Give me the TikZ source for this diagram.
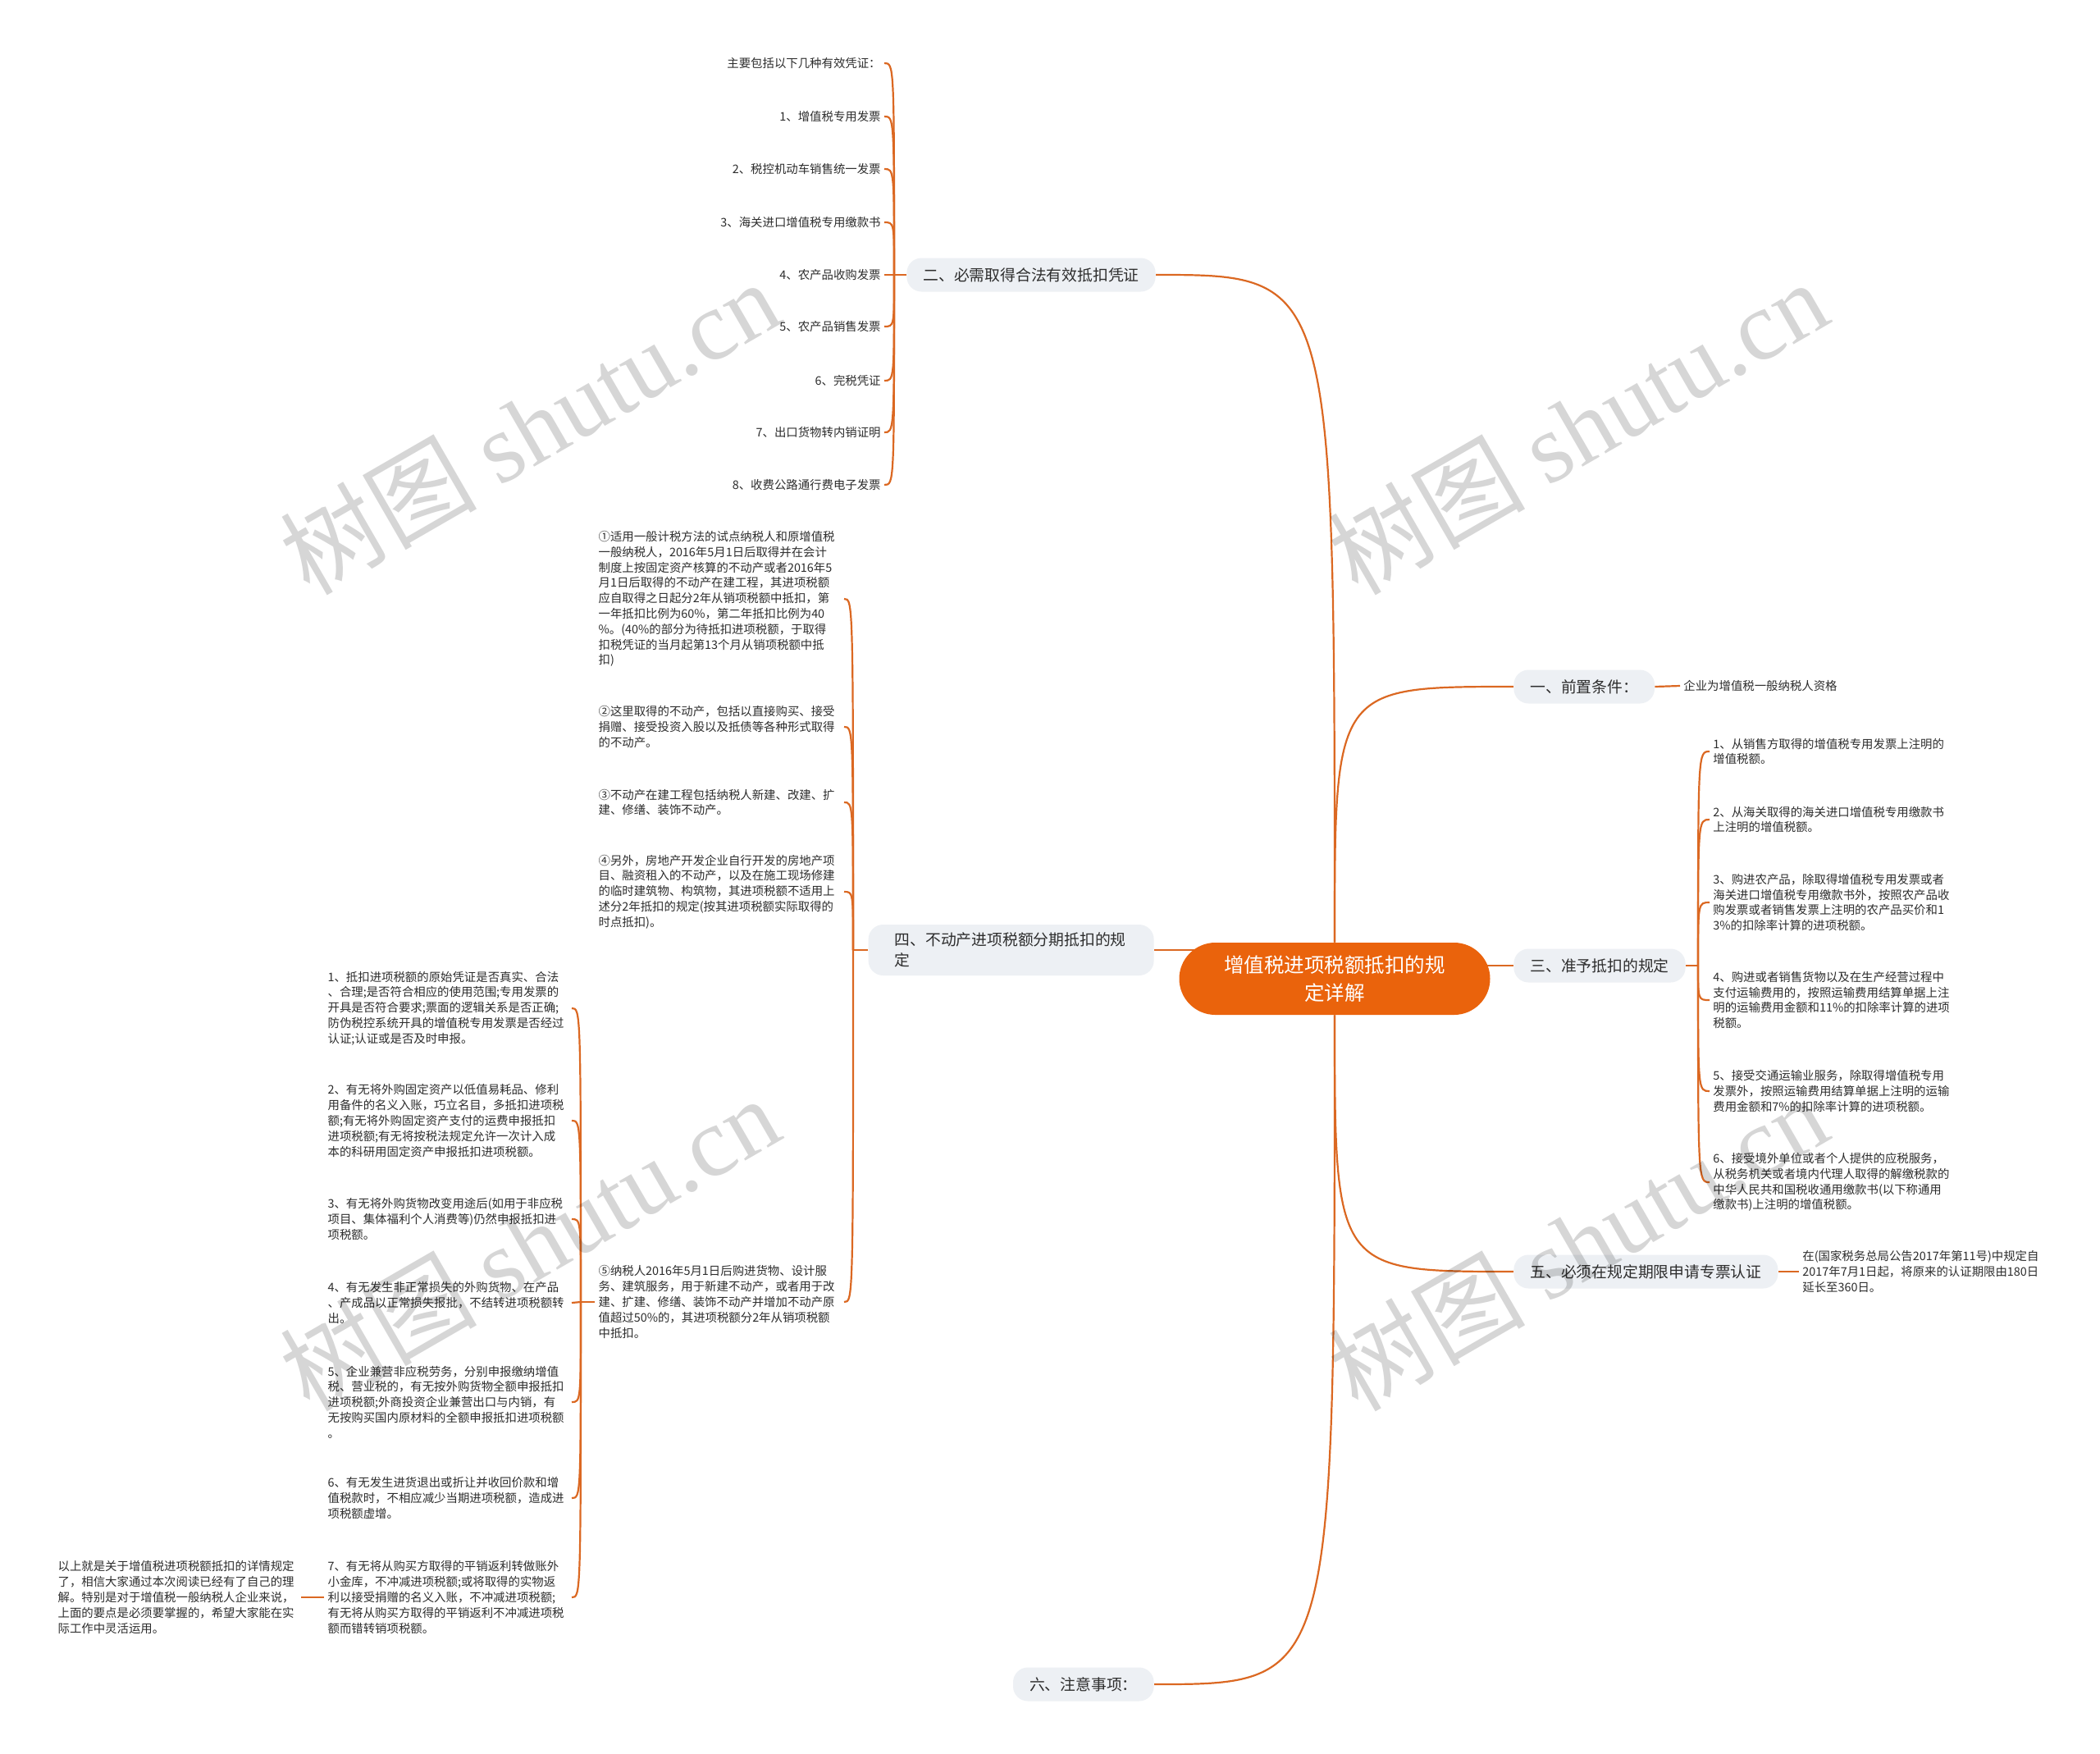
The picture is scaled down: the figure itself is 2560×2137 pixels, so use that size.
\documentclass[tikz,border=0pt]{standalone}
\usepackage{fontspec}
\setmainfont{Noto Sans CJK SC}
\newfontfamily\wmfont{Liberation Serif}
\usetikzlibrary{positioning}
\definecolor{mainorange}{RGB}{234,99,12}
\definecolor{linecol}{RGB}{219,104,34}
\definecolor{boxgray}{RGB}{237,240,244}
\definecolor{txt}{RGB}{45,45,45}
\pgfdeclarelayer{background}
\pgfsetlayers{background,main}

\begin{document}
\begin{tikzpicture}[x=0.5pt, y=-0.5pt,
  topic/.style={fill=mainorange, text=white, rounded corners=22pt, minimum width=189.5pt, minimum height=44pt, align=center, font=\fontsize{12.25}{17}\selectfont},
  sub/.style={fill=boxgray, text=txt, rounded corners=9pt, minimum height=20.5pt, inner xsep=10pt, font=\fontsize{9.4}{12.25}\selectfont},
  leaf/.style={text=txt, inner sep=2pt, align=left, font=\fontsize{7.2}{9.4}\selectfont},
  conn/.style={draw=linecol, line width=1.1pt},
  wm/.style={rotate=30, text=black, text opacity=0.16, font=\fontsize{60}{60}\selectfont}]
\useasboundingbox (0,0) rectangle (2560,2137);

\node (main) [topic] at (1627,1193) {增值税进项税额抵扣的规\\定详解};

\node (b1) [sub, anchor=west] at (1845,837) {一、前置条件：};
\node (b2) [sub, anchor=east] at (1409,335) {二、必需取得合法有效抵扣凭证};
\node (b3) [sub, anchor=west] at (1845,1177) {三、准予抵扣的规定};
\node (b4) [sub, anchor=east, align=left, text width=142pt, inner xsep=16pt, minimum height=31pt] at (1407,1158) {四、不动产进项税额分期抵扣的规\\定};
\node (b5) [sub, anchor=west] at (1845,1550) {五、必须在规定期限申请专票认证};
\node (b6) [sub, anchor=east] at (1407,2053) {六、注意事项：};

\node (a1) [leaf, anchor=west] at (2048,836) {企业为增值税一般纳税人资格};

\node (c0) [leaf, anchor=east] at (1078,77) {主要包括以下几种有效凭证：};
\node (c1) [leaf, anchor=east] at (1078,142) {1、增值税专用发票};
\node (c2) [leaf, anchor=east] at (1078,206) {2、税控机动车销售统一发票};
\node (c3) [leaf, anchor=east] at (1078,271) {3、海关进口增值税专用缴款书};
\node (c4) [leaf, anchor=east] at (1078,335) {4、农产品收购发票};
\node (c5) [leaf, anchor=east] at (1078,398) {5、农产品销售发票};
\node (c6) [leaf, anchor=east] at (1078,464) {6、完税凭证};
\node (c7) [leaf, anchor=east] at (1078,527) {7、出口货物转内销证明};
\node (c8) [leaf, anchor=east] at (1078,591) {8、收费公路通行费电子发票};
\coordinate (j2) at (1090,335);

\node (g1) [leaf, anchor=west] at (2084,916) {1、从销售方取得的增值税专用发票上注明的\\增值税额。};
\node (g2) [leaf, anchor=west] at (2084,999) {2、从海关取得的海关进口增值税专用缴款书\\上注明的增值税额。};
\node (g3) [leaf, anchor=west] at (2084,1100) {3、购进农产品，除取得增值税专用发票或者\\海关进口增值税专用缴款书外，按照农产品收\\购发票或者销售发票上注明的农产品买价和1\\3\%的扣除率计算的进项税额。};
\node (g4) [leaf, anchor=west] at (2084,1219) {4、购进或者销售货物以及在生产经营过程中\\支付运输费用的，按照运输费用结算单据上注\\明的运输费用金额和11\%的扣除率计算的进项\\税额。};
\node (g5) [leaf, anchor=west] at (2084,1330) {5、接受交通运输业服务，除取得增值税专用\\发票外，按照运输费用结算单据上注明的运输\\费用金额和7\%的扣除率计算的进项税额。};
\node (g6) [leaf, anchor=west] at (2084,1441) {6、接受境外单位或者个人提供的应税服务，\\从税务机关或者境内代理人取得的解缴税款的\\中华人民共和国税收通用缴款书(以下称通用\\缴款书)上注明的增值税额。};
\coordinate (j3) at (2070,1177);

\node (d1) [leaf, anchor=east, text width=147.5pt] at (1029,730) {①适用一般计税方法的试点纳税人和原增值税\\一般纳税人，2016年5月1日后取得并在会计\\制度上按固定资产核算的不动产或者2016年5\\月1日后取得的不动产在建工程，其进项税额\\应自取得之日起分2年从销项税额中抵扣，第\\一年抵扣比例为60\%，第二年抵扣比例为40\\\%。(40\%的部分为待抵扣进项税额，于取得\\扣税凭证的当月起第13个月从销项税额中抵\\扣)};
\node (d2) [leaf, anchor=east, text width=147.5pt] at (1029,886) {②这里取得的不动产，包括以直接购买、接受\\捐赠、接受投资入股以及抵债等各种形式取得\\的不动产。};
\node (d3) [leaf, anchor=east, text width=147.5pt] at (1029,978) {③不动产在建工程包括纳税人新建、改建、扩\\建、修缮、装饰不动产。};
\node (d4) [leaf, anchor=east, text width=147.5pt] at (1029,1087) {④另外，房地产开发企业自行开发的房地产项\\目、融资租入的不动产，以及在施工现场修建\\的临时建筑物、构筑物，其进项税额不适用上\\述分2年抵扣的规定(按其进项税额实际取得的\\时点抵扣)。};
\node (d5) [leaf, anchor=east, text width=147.5pt] at (1029,1587) {⑤纳税人2016年5月1日后购进货物、设计服\\务、建筑服务，用于新建不动产，或者用于改\\建、扩建、修缮、装饰不动产并增加不动产原\\值超过50\%的，其进项税额分2年从销项税额\\中抵扣。};
\coordinate (j4) at (1040,1158);

\node (e1) [leaf, anchor=east, text width=146.5pt] at (697,1229) {1、抵扣进项税额的原始凭证是否真实、合法\\、合理;是否符合相应的使用范围;专用发票的\\开具是否符合要求;票面的逻辑关系是否正确;\\防伪税控系统开具的增值税专用发票是否经过\\认证;认证或是否及时申报。};
\node (e2) [leaf, anchor=east, text width=146.5pt] at (697,1366) {2、有无将外购固定资产以低值易耗品、修利\\用备件的名义入账，巧立名目，多抵扣进项税\\额;有无将外购固定资产支付的运费申报抵扣\\进项税额;有无将按税法规定允许一次计入成\\本的科研用固定资产申报抵扣进项税额。};
\node (e3) [leaf, anchor=east, text width=146.5pt] at (697,1486) {3、有无将外购货物改变用途后(如用于非应税\\项目、集体福利个人消费等)仍然申报抵扣进\\项税额。};
\node (e4) [leaf, anchor=east, text width=146.5pt] at (697,1588) {4、有无发生非正常损失的外购货物、在产品\\、产成品以正常损失报批，不结转进项税额转\\出。};
\node (e5) [leaf, anchor=east, text width=146.5pt] at (697,1709) {5、企业兼营非应税劳务，分别申报缴纳增值\\税、营业税的，有无按外购货物全额申报抵扣\\进项税额;外商投资企业兼营出口与内销，有\\无按购买国内原材料的全额申报抵扣进项税额\\。};
\node (e6) [leaf, anchor=east, text width=146.5pt] at (697,1826) {6、有无发生进货退出或折让并收回价款和增\\值税款时，不相应减少当期进项税额，造成进\\项税额虚增。};
\node (e7) [leaf, anchor=east, text width=146.5pt] at (697,1947) {7、有无将从购买方取得的平销返利转做账外\\小金库，不冲减进项税额;或将取得的实物返\\利以接受捐赠的名义入账，不冲减进项税额;\\有无将从购买方取得的平销返利不冲减进项税\\额而错转销项税额。};
\coordinate (j5) at (708,1587);

\node (f1) [leaf, anchor=east, text width=146pt] at (367,1947) {以上就是关于增值税进项税额抵扣的详情规定\\了，相信大家通过本次阅读已经有了自己的理\\解。特别是对于增值税一般纳税人企业来说，\\上面的要点是必须要掌握的，希望大家能在实\\际工作中灵活运用。};

\node (h1) [leaf, anchor=west] at (2193,1550) {在(国家税务总局公告2017年第11号)中规定自\\2017年7月1日起，将原来的认证期限由180日\\延长至360日。};

\begin{pgfonlayer}{background}
\fill[white] (0,0) rectangle (2560,2137);
\draw[conn] (main.north) .. controls (main.north |- b2.east) .. (b2.east);
\draw[conn] (main.north) .. controls (main.north |- b1.west) .. (b1.west);
\draw[conn] (main.south) .. controls (main.south |- b5.west) .. (b5.west);
\draw[conn] (main.south) .. controls (main.south |- b6.east) .. (b6.east);
\draw[conn] (b3.west) -- (b3.west -| main.center);
\draw[conn] (b4.east) -- (b4.east -| main.center);
\draw[conn] (b1.east) -- (a1.west);
\draw[conn] (b5.east) -- (h1.west);
\draw[conn] (b2.west) -- (j2);
\draw[conn] (j2) .. controls (j2 |- c0.east) .. (c0.east);
\draw[conn] (j2) .. controls (j2 |- c1.east) .. (c1.east);
\draw[conn] (j2) .. controls (j2 |- c2.east) .. (c2.east);
\draw[conn] (j2) .. controls (j2 |- c3.east) .. (c3.east);
\draw[conn] (j2) -- (c4.east);
\draw[conn] (j2) .. controls (j2 |- c5.east) .. (c5.east);
\draw[conn] (j2) .. controls (j2 |- c6.east) .. (c6.east);
\draw[conn] (j2) .. controls (j2 |- c7.east) .. (c7.east);
\draw[conn] (j2) .. controls (j2 |- c8.east) .. (c8.east);
\draw[conn] (b3.east) -- (j3);
\draw[conn] (j3) .. controls (j3 |- g1.west) .. (g1.west);
\draw[conn] (j3) .. controls (j3 |- g2.west) .. (g2.west);
\draw[conn] (j3) .. controls (j3 |- g3.west) .. (g3.west);
\draw[conn] (j3) .. controls (j3 |- g4.west) .. (g4.west);
\draw[conn] (j3) .. controls (j3 |- g5.west) .. (g5.west);
\draw[conn] (j3) .. controls (j3 |- g6.west) .. (g6.west);
\draw[conn] (b4.west) -- (j4);
\draw[conn] (j4) .. controls (j4 |- d1.east) .. (d1.east);
\draw[conn] (j4) .. controls (j4 |- d2.east) .. (d2.east);
\draw[conn] (j4) .. controls (j4 |- d3.east) .. (d3.east);
\draw[conn] (j4) .. controls (j4 |- d4.east) .. (d4.east);
\draw[conn] (j4) .. controls (j4 |- d5.east) .. (d5.east);
\draw[conn] (d5.west) -- (j5);
\draw[conn] (j5) .. controls (j5 |- e1.east) .. (e1.east);
\draw[conn] (j5) .. controls (j5 |- e2.east) .. (e2.east);
\draw[conn] (j5) .. controls (j5 |- e3.east) .. (e3.east);
\draw[conn] (j5) -- (e4.east);
\draw[conn] (j5) .. controls (j5 |- e5.east) .. (e5.east);
\draw[conn] (j5) .. controls (j5 |- e6.east) .. (e6.east);
\draw[conn] (j5) .. controls (j5 |- e7.east) .. (e7.east);
\draw[conn] (e7.west) -- (f1.east);
\end{pgfonlayer}

\node (wm1) [wm] at (645,520) {树图 {\wmfont shutu.cn}};
\node (wm2) [wm] at (1923,520) {树图 {\wmfont shutu.cn}};
\node (wm3) [wm] at (645,1515) {树图 {\wmfont shutu.cn}};
\node (wm4) [wm] at (1923,1515) {树图 {\wmfont shutu.cn}};
\end{tikzpicture}
\end{document}
